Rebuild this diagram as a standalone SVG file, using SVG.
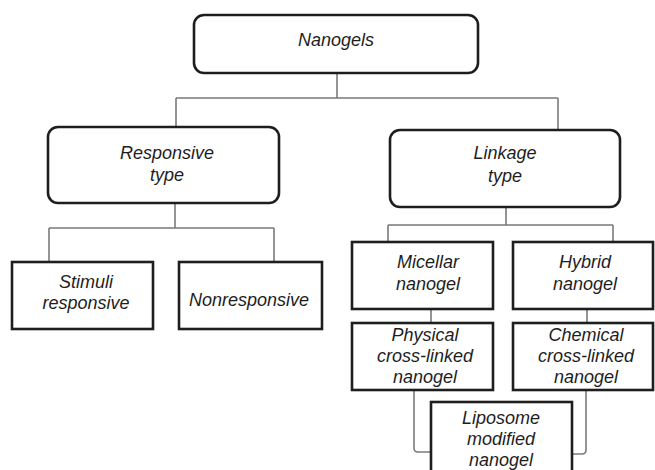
<svg xmlns="http://www.w3.org/2000/svg" width="655" height="470" viewBox="0 0 655 470">
<style>
.box{fill:#fff;stroke:#1e1e1e;stroke-width:2.6}
.c{fill:none;stroke:#7a7a7a;stroke-width:1.6}
text{font-family:"Liberation Sans",Arial,sans-serif;font-style:italic;font-size:18px;fill:#1e1e1e;text-anchor:middle}
</style>
<rect width="655" height="470" fill="#fff"/>
<g id="connectors">
<path class="c" d="M337 73V98M176 98H558M176 98V127M558 98V130"/>
<path class="c" d="M175 203V228M49 228H274M49 228V262M274 228V262"/>
<path class="c" d="M506 207V225M388 225H613M388 225V242M613 225V242"/>
<path class="c" d="M431 309V323M587 309V323"/>
<path class="c" d="M414 390V448Q414 452 418 452H431M586 390V450Q586 454 582 454H572"/>
</g>
<g id="nanogels"><rect class="box" x="194" y="15" width="284" height="58" rx="10"/><text x="336" y="46">Nanogels</text></g>
<g id="responsive-type"><rect class="box" x="48" y="127" width="231" height="76" rx="10"/><text x="167" y="159">Responsive</text><text x="167" y="181">type</text></g>
<g id="linkage-type"><rect class="box" x="390" y="130" width="230" height="77" rx="10"/><text x="505" y="159">Linkage</text><text x="505" y="182">type</text></g>
<g id="stimuli-responsive"><rect class="box" x="12" y="262" width="141" height="67"/><text x="86" y="288">Stimuli</text><text x="86" y="309">responsive</text></g>
<g id="nonresponsive"><rect class="box" x="179" y="262" width="143" height="67"/><text x="249" y="306">Nonresponsive</text></g>
<g id="micellar-nanogel"><rect class="box" x="352" y="242" width="141" height="67"/><text x="428" y="268">Micellar</text><text x="428" y="290">nanogel</text></g>
<g id="hybrid-nanogel"><rect class="box" x="513" y="242" width="140" height="67"/><text x="585" y="268">Hybrid</text><text x="585" y="290">nanogel</text></g>
<g id="physical-cross-linked-nanogel"><rect class="box" x="352" y="323" width="141" height="67"/><text x="425" y="341">Physical</text><text x="425" y="362">cross-linked</text><text x="425" y="383">nanogel</text></g>
<g id="chemical-cross-linked-nanogel"><rect class="box" x="513" y="323" width="140" height="67"/><text x="586" y="341">Chemical</text><text x="586" y="362">cross-linked</text><text x="586" y="383">nanogel</text></g>
<g id="liposome-modified-nanogel"><rect class="box" x="431" y="402" width="141" height="80"/><text x="501" y="424">Liposome</text><text x="501" y="445">modified</text><text x="501" y="466">nanogel</text></g>
</svg>
